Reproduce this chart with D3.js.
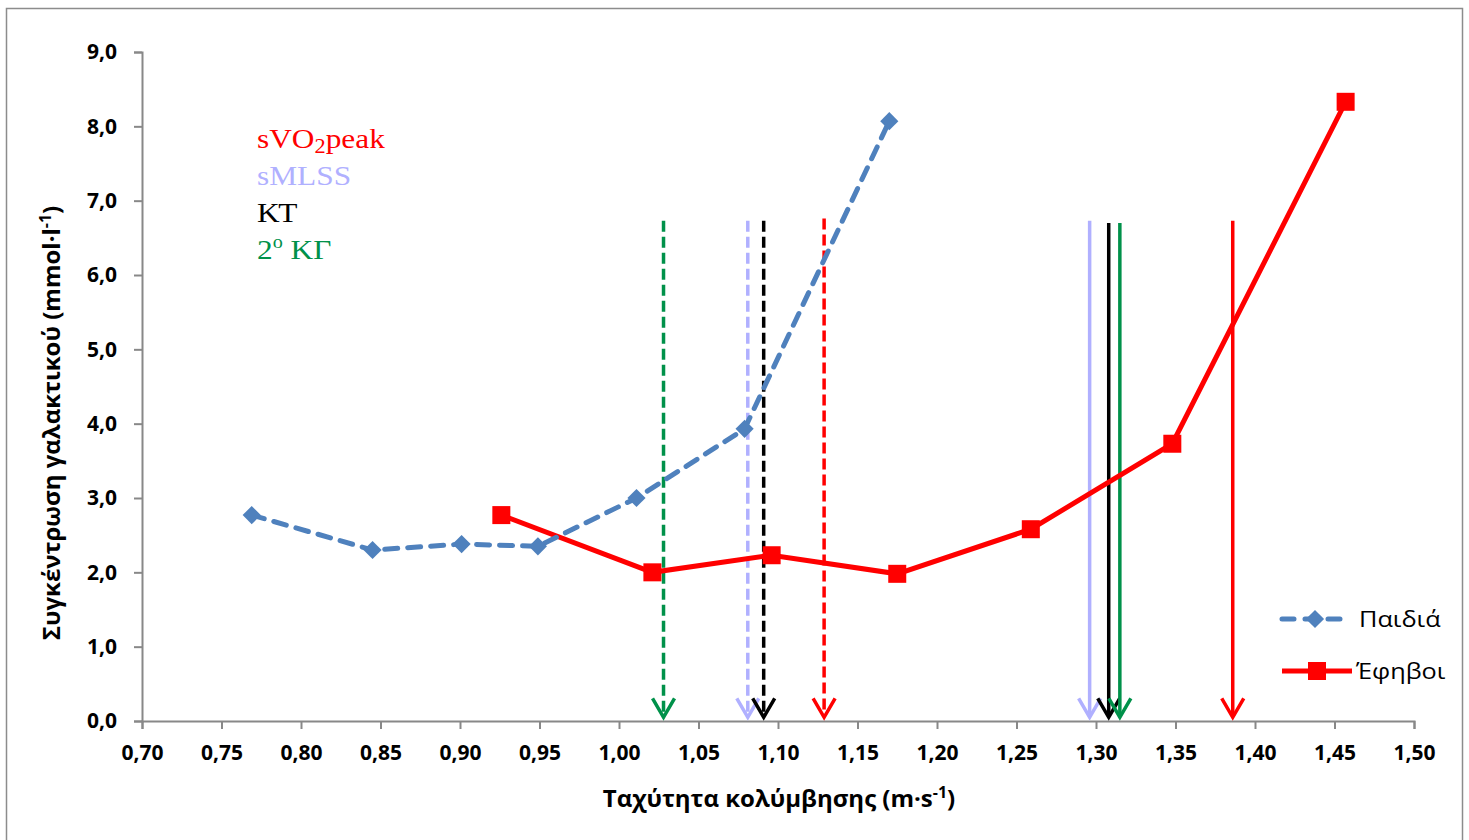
<!DOCTYPE html>
<html>
<head>
<meta charset="utf-8">
<script src="https://cdn.jsdelivr.net/npm/d3@7"></script>
<style>
  body { margin: 0; background: #fff; }
  svg { display: block; }
</style>
</head>
<body>
<div id="chart"></div>
<script>
// Παιδιά (blue, dashed, diamonds)
var kidsX = [0.769, 0.845, 0.901, 0.949, 1.011, 1.079, 1.170];
var kidsY = [2.77, 2.30, 2.38, 2.35, 3.00, 3.93, 8.07];
// Έφηβοι (red, solid, squares)
var teensX = [0.926, 1.021, 1.096, 1.175, 1.259, 1.348, 1.457];
var teensY = [2.77, 2.00, 2.23, 1.98, 2.58, 3.73, 8.33];

// threshold arrows: sVO2peak, sMLSS, ΚΤ, 2ο ΚΓ
var kidsArrowX = [1.129, 1.081, 1.091, 1.028];
var kidsArrowTop = [6.76, 6.73, 6.73, 6.73];
var teensArrowX = [1.386, 1.296, 1.308, 1.315];
var teensArrowTop = [6.73, 6.73, 6.70, 6.70];
var arrowBottom = 0.05;

var xTicks = d3.range(0, 17).map(function (i) { return 0.70 + i * 0.05; });
var yTicks = d3.range(0, 10);

var width = 1469, height = 840;
var arrowColors = ["#ff0000", "#b0b0ff", "#000000", "#00914a"];

var svg = d3.select("#chart").append("svg")
    .attr("width", width)
    .attr("height", height);

// outer frame
svg.append("rect")
    .attr("x", 6.5).attr("y", 8.5)
    .attr("width", 1456).attr("height", 840)
    .attr("fill", "none")
    .attr("stroke", "#8c8c8c")
    .attr("stroke-width", 1.5);

var xScale = d3.scaleLinear().domain([0.70, 1.50]).range([142, 1414]);
var yScale = d3.scaleLinear().domain([0, 9]).range([721, 52]);

var fmt = function (d, n) { return d.toFixed(n).replace(".", ","); };

var xAxis = svg.append("g")
    .attr("transform", "translate(0," + yScale(0) + ")")
    .call(d3.axisBottom(xScale).tickValues(xTicks).tickSize(8).tickPadding(16)
        .tickFormat(function (d) { return fmt(d, 2); }));

var yAxis = svg.append("g")
    .attr("transform", "translate(" + xScale(0.70) + ",0)")
    .call(d3.axisLeft(yScale).tickValues(yTicks).tickSize(8).tickPadding(17)
        .tickFormat(function (d) { return fmt(d, 1); }));

[xAxis, yAxis].forEach(function (ax) {
    ax.select(".domain").attr("stroke", "#888").attr("stroke-width", 2);
    ax.selectAll(".tick line").attr("stroke", "#888").attr("stroke-width", 2);
    ax.selectAll(".tick text")
        .attr("fill", "#000")
        .style("font-family", "'Open Sans', sans-serif")
        .style("font-weight", "bold")
        .style("font-size", "21px");
});

// axis titles
svg.append("text")
    .attr("x", 779).attr("y", 807)
    .attr("text-anchor", "middle")
    .style("font-family", "'Open Sans', sans-serif")
    .style("font-weight", "bold")
    .style("font-size", "24px")
    .html("Ταχύτητα κολύμβησης (m·s<tspan dy='-9' font-size='16px'>-1</tspan><tspan dy='9'>)</tspan>");

svg.append("text")
    .attr("transform", "translate(60,423) rotate(-90)")
    .attr("text-anchor", "middle")
    .style("font-family", "'Open Sans', sans-serif")
    .style("font-weight", "bold")
    .style("font-size", "24px")
    .html("Συγκέντρωση γαλακτικού (mmol·l<tspan dy='-9' font-size='16px'>-1</tspan><tspan dy='9'>)</tspan>");

// arrows
function drawArrows(xs, tops, dashed) {
    xs.forEach(function (v, i) {
        var g = svg.append("g")
            .attr("stroke", arrowColors[i])
            .attr("stroke-width", 3.5)
            .attr("fill", "none");
        var tip = yScale(arrowBottom);
        g.append("line")
            .attr("x1", xScale(v)).attr("x2", xScale(v))
            .attr("y1", yScale(tops[i])).attr("y2", tip - 2)
            .attr("stroke-dasharray", dashed ? "11,5" : null);
        g.append("path")
            .attr("d", "M" + (xScale(v) - 11) + "," + (tip - 19) +
                "L" + xScale(v) + "," + tip +
                "L" + (xScale(v) + 11) + "," + (tip - 19));
    });
}
drawArrows(kidsArrowX, kidsArrowTop, true);
drawArrows(teensArrowX, teensArrowTop, false);

var line = d3.line()
    .x(function (d) { return xScale(d[0]); })
    .y(function (d) { return yScale(d[1]); });

var teens = teensX.map(function (d, i) { return [d, teensY[i]]; });
var kids = kidsX.map(function (d, i) { return [d, kidsY[i]]; });

svg.append("path")
    .datum(teens)
    .attr("d", line)
    .attr("fill", "none")
    .attr("stroke", "#ff0000")
    .attr("stroke-width", 5);

svg.selectAll(".sq")
    .data(teens)
    .enter().append("rect")
    .attr("class", "sq")
    .attr("x", function (d) { return xScale(d[0]) - 9; })
    .attr("y", function (d) { return yScale(d[1]) - 9; })
    .attr("width", 18).attr("height", 18)
    .attr("fill", "#ff0000");

svg.append("path")
    .datum(kids)
    .attr("d", line)
    .attr("fill", "none")
    .attr("stroke", "#4f81bd")
    .attr("stroke-width", 5)
    .attr("stroke-linecap", "round")
    .attr("stroke-dasharray", "13,10");

var diamond = d3.symbol().type(d3.symbolSquare).size(165);
svg.selectAll(".dm")
    .data(kids)
    .enter().append("path")
    .attr("class", "dm")
    .attr("d", diamond)
    .attr("transform", function (d) {
        return "translate(" + xScale(d[0]) + "," + yScale(d[1]) + ") rotate(45)";
    })
    .attr("fill", "#4f81bd");

// legend of thresholds (top-left)
var legNames = ["sVO<tspan dy='5' font-size='20px'>2</tspan><tspan dy='-5'>peak</tspan>",
    "sMLSS", "ΚΤ", "2<tspan dy='-11' font-size='18px'>ο</tspan><tspan dy='11'> ΚΓ</tspan>"];
legNames.forEach(function (t, i) {
    svg.append("text")
        .attr("transform", "translate(257," + (148 + i * 37) + ") scale(1.12,1)")
        .attr("fill", arrowColors[i])
        .style("font-family", "'Liberation Serif', 'Times New Roman', serif")
        .style("font-size", "28px")
        .html(t);
});

// series legend (right)
var leg = svg.append("g");
leg.append("line")
    .attr("x1", 1282).attr("x2", 1345).attr("y1", 619).attr("y2", 619)
    .attr("stroke", "#4f81bd").attr("stroke-width", 5)
    .attr("stroke-linecap", "round").attr("stroke-dasharray", "12,11");
leg.append("path")
    .attr("d", diamond)
    .attr("transform", "translate(1315,619) rotate(45)")
    .attr("fill", "#4f81bd");
leg.append("line")
    .attr("x1", 1282).attr("x2", 1352).attr("y1", 671).attr("y2", 671)
    .attr("stroke", "#ff0000").attr("stroke-width", 5);
leg.append("rect")
    .attr("x", 1308).attr("y", 662).attr("width", 18).attr("height", 18)
    .attr("fill", "#ff0000");
leg.selectAll("text")
    .data(["Παιδιά", "Έφηβοι"])
    .enter().append("text")
    .attr("transform", function (d, i) {
        return "translate(" + (i ? 1356 : 1359) + "," + (i ? 679 : 627) + ") scale(1.15,1)";
    })
    .style("font-family", "'Open Sans', sans-serif")
    .style("font-size", "22px")
    .text(function (d) { return d; });
</script>
</body>
</html>
